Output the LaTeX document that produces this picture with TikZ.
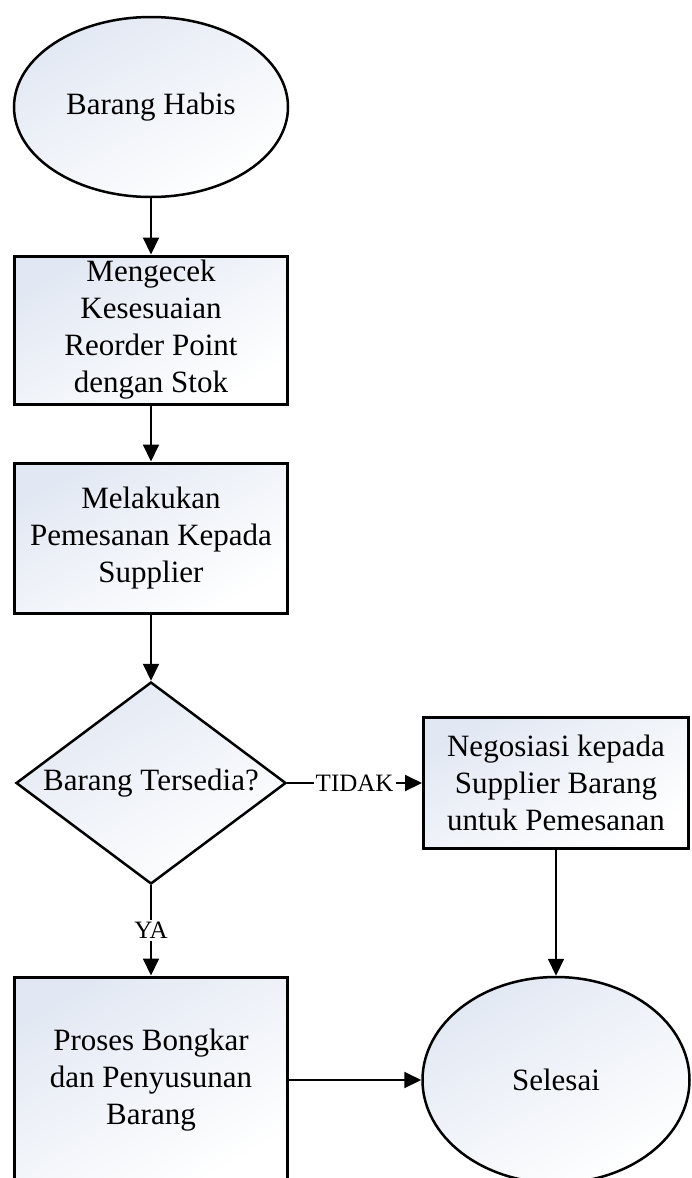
\documentclass[tikz,border=0pt]{standalone}
\usepackage{fontspec}
\setmainfont{Liberation Serif}
\usepackage{tikz}
\usetikzlibrary{shapes.geometric, arrows.meta}
\definecolor{shadeblue}{RGB}{226,232,243}
\tikzstyle{startstop} = [ellipse, minimum width=274pt, minimum height=180pt, inner sep=0pt, text centered, draw=black, line width=2.5pt, top color=shadeblue, bottom color=white, shading angle=30]
\tikzstyle{process} = [rectangle, minimum width=273pt, minimum height=148pt, inner sep=0pt, align=center, draw=black, line width=3pt, top color=shadeblue, bottom color=white, shading angle=30]
\tikzstyle{decision} = [diamond, aspect=1.33, minimum width=270pt, minimum height=202pt, inner sep=0pt, text centered, draw=black, line width=2.5pt, top color=shadeblue, bottom color=white, shading angle=30]
\tikzstyle{answer} = [fill=white, inner sep=2pt, font=\fontsize{25}{29}\selectfont]
\tikzstyle{arrow} = [line width=2pt,-{Triangle[length=17pt,width=16pt]}]

\begin{document}
\begin{tikzpicture}[x=1pt, y=-1pt, node distance=215pt, every node/.style={font=\fontsize{31}{37}\selectfont}]
		\useasboundingbox (0,0) rectangle (692,1178);

		\node (Habis) [startstop] at (151,107) {Barang Habis};
		\node (Cek) [process, below of=Habis, yshift=-8pt] {Mengecek\\Kesesuaian\\Reorder Point\\dengan Stok};
		\node (Pesan) [process, below of=Cek, yshift=7pt, minimum height=150pt] {Melakukan\\Pemesanan Kepada\\Supplier};
		\node (Tersedia) [decision, below of=Pesan, yshift=-30pt] {Barang Tersedia?};
		\node (Nego) [process, right of=Tersedia, xshift=190pt, minimum width=265pt, minimum height=131pt] {Negosiasi kepada\\Supplier Barang\\untuk Pemesanan};
		\node (Bongkar) [process, below of=Tersedia, yshift=-82pt, minimum height=206pt] {Proses Bongkar\\dan Penyusunan\\Barang};
		\node (Selesai) [startstop, below of=Nego, yshift=-82pt, minimum width=267pt, minimum height=206pt] {Selesai};

		\draw [arrow] (Habis) -- (Cek);
		\draw [arrow] (Cek) -- (Pesan);
		\draw [arrow] (Pesan) -- (Tersedia);
		\draw [arrow] (Tersedia) -- node[answer] {TIDAK} (Nego);
		\draw [arrow] (Tersedia) -- node[answer] {YA} (Bongkar);
		\draw [arrow] (Nego) -- (Selesai);
		\draw [arrow] (Bongkar) -- (Selesai);
	\end{tikzpicture}
\end{document}
